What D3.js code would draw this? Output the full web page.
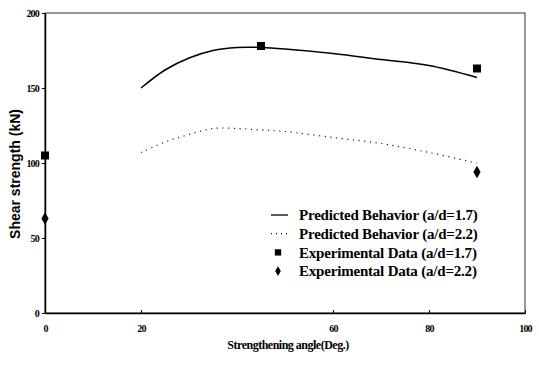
<!DOCTYPE html>
<html>
<head>
<meta charset="utf-8">
<script src="https://cdn.jsdelivr.net/npm/d3@7"></script>
<style>
  html, body { margin: 0; padding: 0; background: #fff; }
  svg { display: block; }
</style>
</head>
<body>
<div id="chart"></div>
<script>
// predicted curves
const predAngle = [20, 25, 30, 35, 40, 45, 50, 60, 70, 80, 90];
const pred17 = [150, 162, 170, 175, 177, 177, 176, 173, 169, 165, 157];
const pred22 = [107, 114, 119, 123, 123, 122, 121, 117, 113, 107, 100];

// experimental points
const exp17Angle = [0, 45, 90];
const exp17 = [105, 178, 163];
const exp22Angle = [0, 90];
const exp22 = [63, 94];

const xTicks = [0, 20, 60, 80, 100];
const yTicks = [0, 50, 100, 150, 200];

const legendItems = [
  "Predicted Behavior (a/d=1.7)",
  "Predicted Behavior (a/d=2.2)",
  "Experimental Data (a/d=1.7)",
  "Experimental Data (a/d=2.2)"
];

const width = 539, height = 365;
const margin = {top: 13, right: 14, bottom: 52, left: 45};

const svg = d3.select("#chart").append("svg")
    .attr("width", width)
    .attr("height", height);

const x = d3.scaleLinear().domain([0, 100]).range([margin.left, width - margin.right]);
const y = d3.scaleLinear().domain([0, 200]).range([height - margin.bottom, margin.top]);

// frame
svg.append("rect")
    .attr("x", x(0)).attr("y", y(200))
    .attr("width", x(100) - x(0)).attr("height", y(0) - y(200))
    .attr("fill", "none").attr("stroke", "#333").attr("stroke-width", 1);

// axes
const xAxis = d3.axisBottom(x).tickValues(xTicks).tickSize(-3).tickPadding(12).tickSizeOuter(0);
const yAxis = d3.axisLeft(y).tickValues(yTicks).tickSize(3).tickPadding(3).tickSizeOuter(0);

const gx = svg.append("g").attr("transform", `translate(0,${y(0)})`).call(xAxis);
const gy = svg.append("g").attr("transform", `translate(${x(0)},0)`).call(yAxis);

[gx, gy].forEach(g => {
  g.select(".domain").attr("stroke", "#000").attr("stroke-width", 1.5);
  g.selectAll(".tick line").attr("stroke", "#000");
  g.selectAll(".tick text")
      .attr("font-family", "Liberation Serif, serif")
      .attr("font-weight", "bold")
      .attr("font-size", 10)
      .attr("letter-spacing", -0.8)
      .attr("fill", "#000");
});

// axis titles
svg.append("text")
    .attr("x", 288).attr("y", 349)
    .attr("text-anchor", "middle")
    .attr("font-family", "Liberation Serif, serif")
    .attr("font-weight", "bold")
    .attr("font-size", 12)
    .attr("letter-spacing", -0.5)
    .text("Strengthening angle(Deg.)");

svg.append("text")
    .attr("transform", `translate(20,174) rotate(-90)`)
    .attr("text-anchor", "middle")
    .attr("font-family", "Liberation Sans, Arial, sans-serif")
    .attr("font-weight", "bold")
    .attr("font-size", 14)
    .text("Shear strength (kN)");

// predicted lines
const line = d3.line()
    .x((d, i) => x(predAngle[i]))
    .y(d => y(d))
    .curve(d3.curveCatmullRom);

svg.append("path")
    .datum(pred17)
    .attr("d", line)
    .attr("fill", "none").attr("stroke", "#000").attr("stroke-width", 1.5);

svg.append("path")
    .datum(pred22)
    .attr("d", line)
    .attr("fill", "none").attr("stroke", "#222").attr("stroke-width", 1.2)
    .attr("stroke-dasharray", "1.2,4.5");

// experimental markers
const square = d3.symbol().type(d3.symbolSquare).size(64);
const diamond = d3.symbol().type(d3.symbolDiamond).size(45);

svg.selectAll(".sq")
  .data(exp17)
  .join("path")
    .attr("class", "sq")
    .attr("transform", (d, i) => `translate(${x(exp17Angle[i])},${y(d)})`)
    .attr("d", square)
    .attr("fill", "#000");

svg.selectAll(".dm")
  .data(exp22)
  .join("path")
    .attr("class", "dm")
    .attr("transform", (d, i) => `translate(${x(exp22Angle[i])},${y(d)})`)
    .attr("d", diamond)
    .attr("fill", "#000");

// legend
const legend = svg.append("g").attr("transform", "translate(271,215)");
const rowH = 18.7;
legendItems.forEach((name, i) => {
  const g = legend.append("g").attr("transform", `translate(0,${i * rowH})`);
  if (i === 0) {
    g.append("line").attr("x1", 0).attr("x2", 17).attr("y1", 0).attr("y2", 0)
        .attr("stroke", "#000").attr("stroke-width", 1.3);
  } else if (i === 1) {
    g.append("line").attr("x1", 0).attr("x2", 17).attr("y1", 0).attr("y2", 0)
        .attr("stroke", "#000").attr("stroke-width", 1.2).attr("stroke-dasharray", "1,4");
  } else if (i === 2) {
    g.append("path").attr("transform", "translate(7,0)")
        .attr("d", d3.symbol().type(d3.symbolSquare).size(40)).attr("fill", "#000");
  } else {
    g.append("path").attr("transform", "translate(7,0)")
        .attr("d", d3.symbol().type(d3.symbolDiamond).size(28)).attr("fill", "#000");
  }
  g.append("text")
      .attr("x", 28).attr("y", 0).attr("dy", "0.35em")
      .attr("font-family", "Liberation Serif, serif")
      .attr("font-weight", "bold")
      .attr("font-size", 15)
      .attr("letter-spacing", -0.2)
      .text(name);
});
</script>
</body>
</html>
